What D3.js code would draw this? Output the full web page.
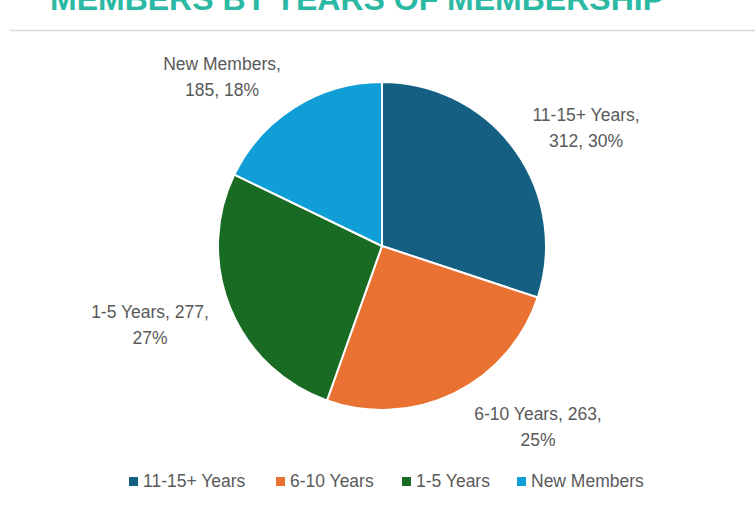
<!DOCTYPE html>
<html><head><meta charset="utf-8">
<script src="https://cdn.jsdelivr.net/npm/d3@7"></script>
<style>html,body{margin:0;padding:0;background:#fff;}svg{display:block;}</style>
</head><body>
<script>
const categories = ["11-15+ Years", "6-10 Years", "1-5 Years", "New Members"];
const values = [312, 263, 277, 185];
const percents = ["30%", "25%", "27%", "18%"];
const colors = ["#156082", "#E97132", "#196B24", "#0F9ED5"];
const title = "MEMBERS BY YEARS OF MEMBERSHIP";

const W = 755, H = 512;
const svg = d3.select("body").append("svg").attr("width", W).attr("height", H);

svg.append("text").attr("x", 357).attr("y", 10).attr("text-anchor", "middle")
  .attr("font-family", "Liberation Sans, Arial, sans-serif").attr("font-weight", "bold")
  .attr("font-size", 32).attr("fill", "#2CB9A4").text(title);
svg.append("line").attr("x1", 10).attr("x2", W).attr("y1", 30.5).attr("y2", 30.5)
  .attr("stroke", "#d9d9d9").attr("stroke-width", 1.5);

const cx = 382, cy = 246, r = 164;
const data = categories.map((c, i) => ({cat: c, value: values[i], pct: percents[i], color: colors[i]}));
const pie = d3.pie().sort(null).value(d => d.value);
const arc = d3.arc().innerRadius(0).outerRadius(r);
const g = svg.append("g").attr("transform", `translate(${cx},${cy})`);
const arcs = pie(data);
g.selectAll("path").data(arcs).join("path").attr("d", arc)
  .attr("fill", d => d.data.color).attr("stroke", "#fff").attr("stroke-width", 2).attr("stroke-linejoin", "round");

const labelLines = [
  [categories[0] + ",", values[0] + ", " + percents[0]],
  [categories[1] + ", " + values[1] + ",", percents[1]],
  [categories[2] + ", " + values[2] + ",", percents[2]],
  [categories[3] + ",", values[3] + ", " + percents[3]]
];
const labelPos = [[204, -119], [156, 180], [-232, 78], [-160, -170]];
const font = "Liberation Sans, Arial, sans-serif";
const fs = 17.5;
arcs.forEach((a, i) => {
  const t = g.append("text").attr("text-anchor", "middle").attr("font-family", font)
    .attr("font-size", fs).attr("fill", "#595959");
  labelLines[i].forEach((ln, j) => {
    t.append("tspan").attr("x", labelPos[i][0]).attr("y", labelPos[i][1] - 6 + j * 26).text(ln);
  });
});

const legX = [129, 276, 402, 517];
const leg = svg.append("g");
data.forEach((d, i) => {
  leg.append("rect").attr("x", legX[i]).attr("y", 477).attr("width", 9).attr("height", 9).attr("fill", d.color);
  leg.append("text").attr("x", legX[i] + 14).attr("y", 487).attr("font-family", font)
    .attr("font-size", fs).attr("fill", "#595959").text(d.cat);
});
</script>
</body></html>
